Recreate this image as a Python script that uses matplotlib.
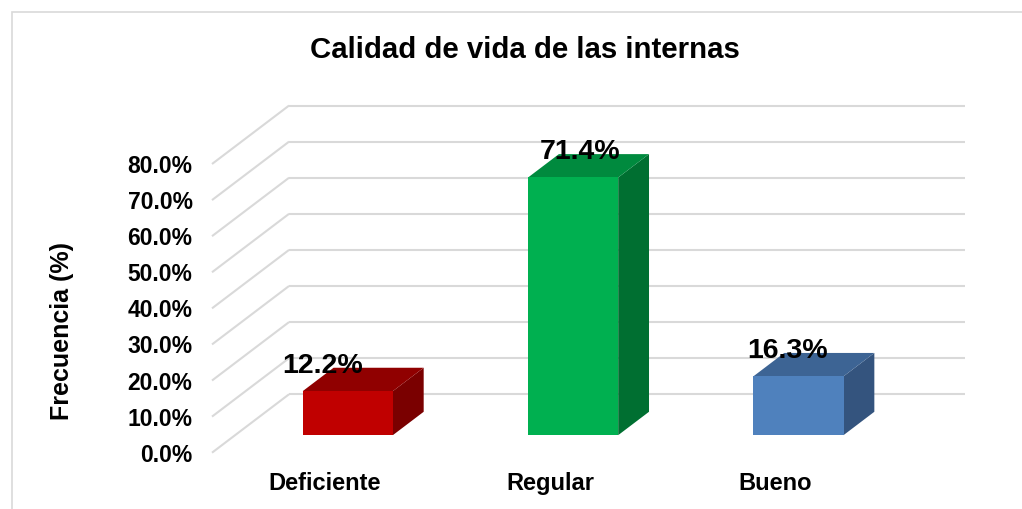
import matplotlib.pyplot as plt
import matplotlib as mpl
from matplotlib.patches import Polygon, Rectangle
from matplotlib.ticker import FuncFormatter

plt.rcParams['font.family'] = ['Liberation Sans', 'DejaVu Sans']
plt.rcParams['font.weight'] = 'bold'

# data
categories = ['Deficiente', 'Regular', 'Bueno']
values = [12.2, 71.4, 16.3]
yticks = [0, 10, 20, 30, 40, 50, 60, 70, 80]

# styling
face_colors = ['#c00000', '#00b050', '#4f81bd']
top_colors = ['#900000', '#008a3e', '#3d6494']
side_colors = ['#7a0000', '#006f31', '#34547e']
label_dx = [-0.11, 0.03, -0.05]   # small nudges of data labels
grid_col = '#d9d9d9'

# pseudo-3d: wall depth in data units
DX, DY = 0.342, 16.2
bar_w = 0.4
bar_front, bar_depth = 0.3, 0.4

fig = plt.figure(figsize=(10.22, 5.09), dpi=100)
W, H = 1022, 509
ax = fig.add_axes([212 / W, 1 - 452.7 / H, 676 / W, 288.7 / H])
ax.set_xlim(-0.5, 2.5)
ax.set_ylim(0, 80)

# chart border
fig.patches.append(Rectangle((12 / W, -0.1), 1.2, 1 - 12 / H + 0.1, transform=fig.transFigure,
                             fill=False, edgecolor='#d9d9d9', lw=1.2))

# back wall gridlines + side diagonals
for t in yticks:
    ax.plot([-0.5 + DX, 2.5 + DX], [t + DY, t + DY], color=grid_col, lw=1.5,
            clip_on=False, zorder=1, solid_capstyle='butt')
    ax.plot([-0.5, -0.5 + DX], [t, t + DY], color=grid_col, lw=1.5,
            clip_on=False, zorder=1, solid_capstyle='butt')

# bars
for i, v in enumerate(values):
    x0 = i - bar_w / 2 + bar_front * DX
    y0 = bar_front * DY
    ddx, ddy = bar_depth * DX, bar_depth * DY
    front = Rectangle((x0, y0), bar_w, v, facecolor=face_colors[i], edgecolor='none',
                      clip_on=False, zorder=3)
    top = Polygon([(x0, y0 + v), (x0 + bar_w, y0 + v), (x0 + bar_w + ddx, y0 + v + ddy),
                   (x0 + ddx, y0 + v + ddy)], closed=True, facecolor=top_colors[i],
                  edgecolor='none', clip_on=False, zorder=3)
    side = Polygon([(x0 + bar_w, y0), (x0 + bar_w + ddx, y0 + ddy),
                    (x0 + bar_w + ddx, y0 + v + ddy), (x0 + bar_w, y0 + v)], closed=True,
                   facecolor=side_colors[i], edgecolor='none', clip_on=False, zorder=3)
    ax.add_patch(side)
    ax.add_patch(top)
    ax.add_patch(front)
    ax.text(i + bar_front * DX + label_dx[i], y0 + v + ddy + 0.5, f'{v:.1f}%',
            ha='center', va='center', fontsize=20.5, fontweight='bold', zorder=5)

ax.set_yticks(yticks)
ax.yaxis.set_major_formatter(FuncFormatter(lambda y, _: f'{y:.1f}%'))
ax.set_xticks(range(len(categories)))
ax.set_xticklabels(categories)
ax.tick_params(axis='y', length=0, pad=14, labelsize=16.5)
ax.tick_params(axis='x', length=0, pad=14, labelsize=17)
for s in ax.spines.values():
    s.set_visible(False)
ax.patch.set_visible(False)

ax.set_ylabel('Frecuencia (%)', fontsize=18, fontweight='bold')
ax.yaxis.set_label_coords(-0.204, 0.42)

fig.text(525 / W, 1 - 50 / H, 'Calidad de vida de las internas', ha='center', va='center',
         fontsize=21.2, fontweight='bold')

fig.savefig('out.png', dpi=100)
